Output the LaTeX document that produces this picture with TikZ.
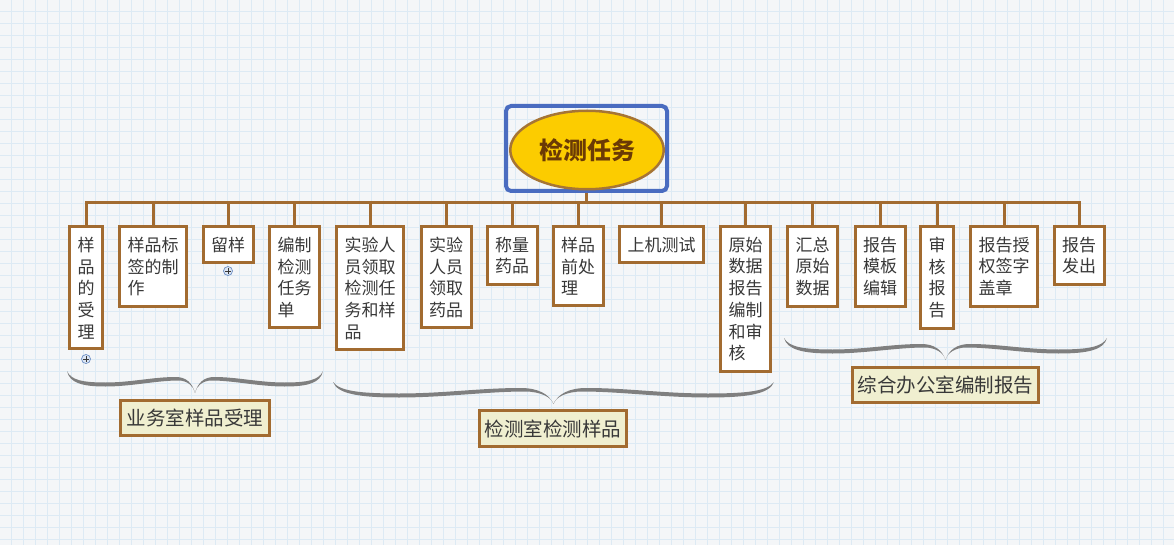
\documentclass[tikz,border=0pt]{standalone}
\usepackage{fontspec}
\newfontfamily\cjk{Noto Sans CJK SC}
\usetikzlibrary{shapes.geometric}
\definecolor{bgc}{HTML}{F4F6F8}
\definecolor{gridc}{HTML}{DDEAF4}
\definecolor{brn}{HTML}{A26B30}
\definecolor{txt}{HTML}{383838}
\definecolor{cream}{HTML}{F0EFD0}
\definecolor{rootblue}{HTML}{4A6CC0}
\definecolor{gold}{HTML}{FCCC00}
\definecolor{rootedge}{HTML}{A67535}
\definecolor{roottext}{HTML}{6B3A05}
\definecolor{bracec}{HTML}{7F7F7F}
\definecolor{iconfill}{HTML}{DCE6F5}
\definecolor{iconedge}{HTML}{6D8FC4}
\newcommand{\mybrace}[3]{% left x, right x, top y
  \begin{scope}[shift={({(#1+#2)/2},#3)}, xscale={(#2-#1)/2}]
    \fill[bracec] (-1,0) .. controls (-0.98,12) and (-0.88,15.5) .. (-0.7,15.5)
      .. controls (-0.5,15.5) and (-0.3,9.5) .. (-0.13,9.5)
      .. controls (-0.06,9.5) and (-0.01,15) .. (0,22)
      .. controls (0.01,15) and (0.06,9.5) .. (0.13,9.5)
      .. controls (0.3,9.5) and (0.5,15.5) .. (0.7,15.5)
      .. controls (0.88,15.5) and (0.98,12) .. (1,0)
      .. controls (0.97,9) and (0.88,11.5) .. (0.7,11.5)
      .. controls (0.5,11.5) and (0.33,6) .. (0.15,6)
      .. controls (0.07,6) and (0.02,12) .. (0,22)
      .. controls (-0.02,12) and (-0.07,6) .. (-0.15,6)
      .. controls (-0.33,6) and (-0.5,11.5) .. (-0.7,11.5)
      .. controls (-0.88,11.5) and (-0.97,9) .. (-1,0) -- cycle;
  \end{scope}}
\tikzset{
  child/.style={draw=brn, line width=3pt, fill=white, inner xsep=8pt, inner ysep=10pt,
    align=left, anchor=north, text=txt, font=\cjk\fontsize{17}{21.7}\selectfont},
  lab/.style={draw=brn, line width=3pt, fill=cream, inner sep=0pt, text=txt,
    font=\cjk\fontsize{19.5}{22}\selectfont},
  conn/.style={draw=brn, line width=3pt},
  icon/.style={circle, draw=iconedge, fill=iconfill, line width=0.7pt, minimum size=9pt, inner sep=0pt},
}
\begin{document}
\begin{tikzpicture}[x=1pt,y=-1pt]
\useasboundingbox (0,0) rectangle (1174,545);
\fill[bgc] (0,0) rectangle (1174,545);
\foreach \g in {0,...,97} {\draw[gridc, line width=0.6pt] ({11.6+12*\g},0) -- ({11.6+12*\g},545);}
\foreach \g in {0,...,45} {\draw[gridc, line width=0.6pt] (0,{11.6+12*\g}) -- (1174,{11.6+12*\g});}

% root
\node[draw=rootblue, line width=4pt, rounded corners=5pt, minimum width=161pt, minimum height=85pt] (rootbox) at (586.5,148.5) {};
\node[ellipse, draw=rootedge, fill=gold, line width=2.5pt, minimum width=153.5pt, minimum height=78.5pt,
  text=roottext, font=\cjk\bfseries\fontsize{24}{26}\selectfont] (root) at (587,150) {检测任务};

% children
\node[child] (c1) at (86,225.5) {样\\品\\的\\受\\理};
\node[child] (c2) at (153,225.5) {样品标\\签的制\\作};
\node[child] (c3) at (228,225.5) {留样};
\node[child] (c4) at (294.5,225.5) {编制\\检测\\任务\\单};
\node[child] (c5) at (370,225.5) {实验人\\员领取\\检测任\\务和样\\品};
\node[child] (c6) at (446,225.5) {实验\\人员\\领取\\药品};
\node[child] (c7) at (512,225.5) {称量\\药品};
\node[child] (c8) at (578,225.5) {样品\\前处\\理};
\node[child] (c9) at (661.5,225.5) {上机测试};
\node[child] (c10) at (745.5,225.5) {原始\\数据\\报告\\编制\\和审\\核};
\node[child] (c11) at (812.5,225.5) {汇总\\原始\\数据};
\node[child] (c12) at (880,225.5) {报告\\模板\\编辑};
\node[child] (c13) at (937,225.5) {审\\核\\报\\告};
\node[child] (c14) at (1004,225.5) {报告授\\权签字\\盖章};
\node[child] (c15) at (1079,225.5) {报告\\发出};

\coordinate (bar) at (0,203);
\draw[conn] (c1.north) -- (c1.north |- bar) -- (c15.north |- bar) -- (c15.north);
\draw[conn] (rootbox.south) -- (rootbox.south |- bar);
\foreach \n in {c2,c3,c4,c5,c6,c7,c8,c9,c10,c11,c12,c13,c14}
  \draw[conn] (\n.north) -- (\n.north |- bar);

% expand icons
\node[icon] (i1) at (86,359) {};
\node[icon] (i2) at (228,271) {};
\foreach \i in {i1,i2} {
  \draw[txt, line width=0.6pt] ([xshift=-2.6pt]\i.center) -- ([xshift=2.6pt]\i.center);
  \draw[txt, line width=0.6pt] ([yshift=-2.6pt]\i.center) -- ([yshift=2.6pt]\i.center);
}

% braces
\mybrace{67}{323}{371}
\mybrace{333}{774}{382}
\mybrace{784}{1107}{338}

% labels
\node[lab, minimum width=149pt, minimum height=35pt] (l1) at (195,418) {业务室样品受理};
\node[lab, minimum width=147pt, minimum height=36pt] (l2) at (553,428.5) {检测室检测样品};
\node[lab, minimum width=186pt, minimum height=35pt] (l3) at (945.5,385) {综合办公室编制报告};
\end{tikzpicture}
\end{document}
